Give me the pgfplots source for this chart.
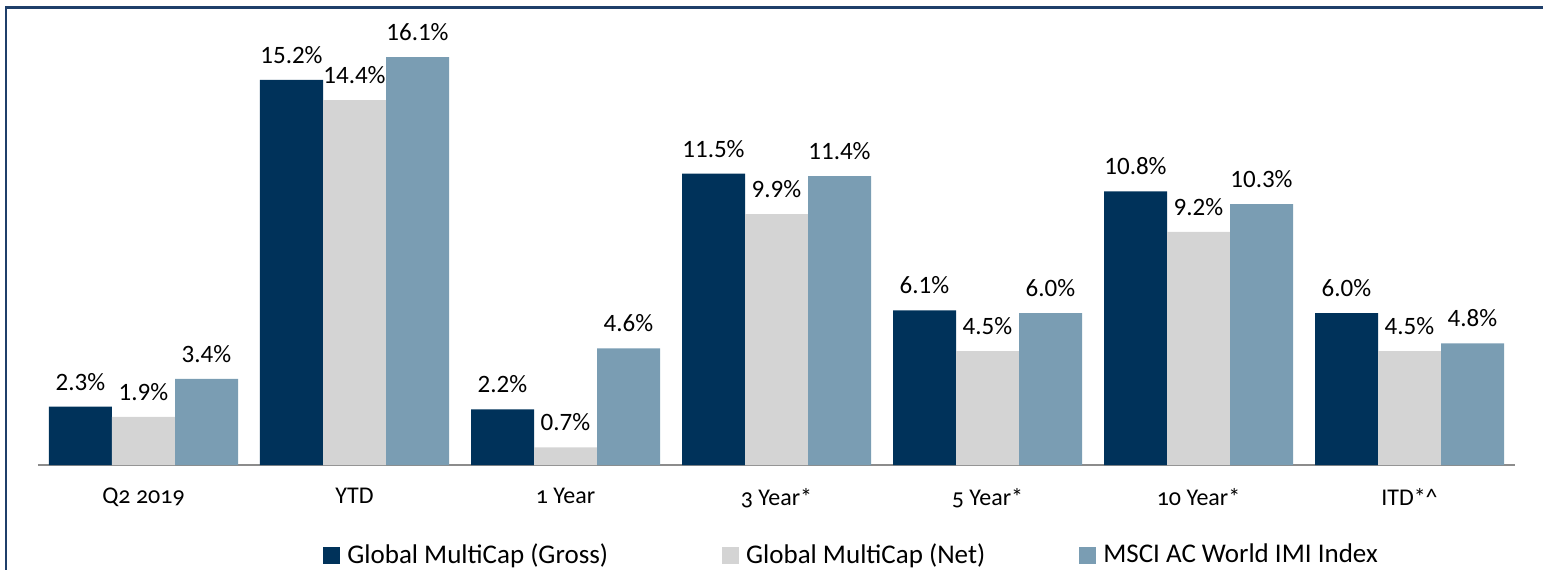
\documentclass[border=0pt]{standalone}
\usepackage{pgfplots}
\pgfplotsset{compat=1.18}
\usepackage{fontspec}
\setmainfont{Carlito}
\definecolor{cdark}{HTML}{00325A}
\definecolor{clight}{HTML}{D4D4D4}
\definecolor{cblue}{HTML}{7A9DB3}
\definecolor{cframe}{HTML}{1F3F6A}
\definecolor{caxis}{HTML}{8C8C8C}
\begin{document}
\begin{tikzpicture}
\path[use as bounding box] (-19pt,-52pt) rectangle (752.5pt,232.5pt);
\draw[cframe, line width=1pt] (-15.75pt,-60pt) -- (-15.75pt,229pt);
\draw[cframe, line width=1.5pt] (-16.25pt,228.75pt) -- (760pt,228.75pt);
\begin{axis}[
  scale only axis,
  width=738.5pt, height=228pt,
  xmin=-0.5, xmax=6.5, ymin=0, ymax=18,
  ybar=0pt, bar width=31.5pt,
  axis x line*=bottom, axis y line=none,
  x axis line style={caxis, line width=1pt, -},
  xtick={0,1,2,3,4,5,6},
  xticklabels={Q2 2019, YTD, 1 Year, 3 Year*, 5 Year*, 10 Year*, ITD*\^{}},
  xticklabel style={font=\fontsize{12}{14}\selectfont\addfontfeatures{Numbers=OldStyle}, yshift=-8pt},
  major tick length=0pt,
  /pgf/number format/assume math mode=true,
  nodes near coords={\pgfmathprintnumber[fixed,fixed zerofill,precision=1,assume math mode=true]{\pgfplotspointmeta}\%},
  nodes near coords style={font=\fontsize{12.5}{15}\selectfont, black, inner sep=2.5pt, yshift=5.5pt},
  legend columns=3,
  legend style={at={(rel axis cs:0.5515,0)}, anchor=center, yshift=-45pt, draw=none, fill=none,
    font=\fontsize{13.5}{16}\selectfont,
    /tikz/column 2/.style={column sep=55pt},
    /tikz/column 4/.style={column sep=45pt},
    /tikz/every odd column/.append style={column sep=1.5pt}},
  legend cell align=left,
  legend image code/.code={\fill[#1] (0pt,-4.25pt) rectangle (8.5pt,4.25pt);},
]
\addplot[fill=cdark, draw=none] coordinates {(0,2.3) (1,15.2) (2,2.2) (3,11.5) (4,6.1) (5,10.8) (6,6.0)};
\addplot[fill=clight, draw=none] coordinates {(0,1.9) (1,14.4) (2,0.7) (3,9.9) (4,4.5) (5,9.2) (6,4.5)};
\addplot[fill=cblue, draw=none] coordinates {(0,3.4) (1,16.1) (2,4.6) (3,11.4) (4,6.0) (5,10.3) (6,4.8)};
\legend{Global MultiCap (Gross), Global MultiCap (Net), MSCI AC World IMI Index}
\end{axis}
\end{tikzpicture}
\end{document}
